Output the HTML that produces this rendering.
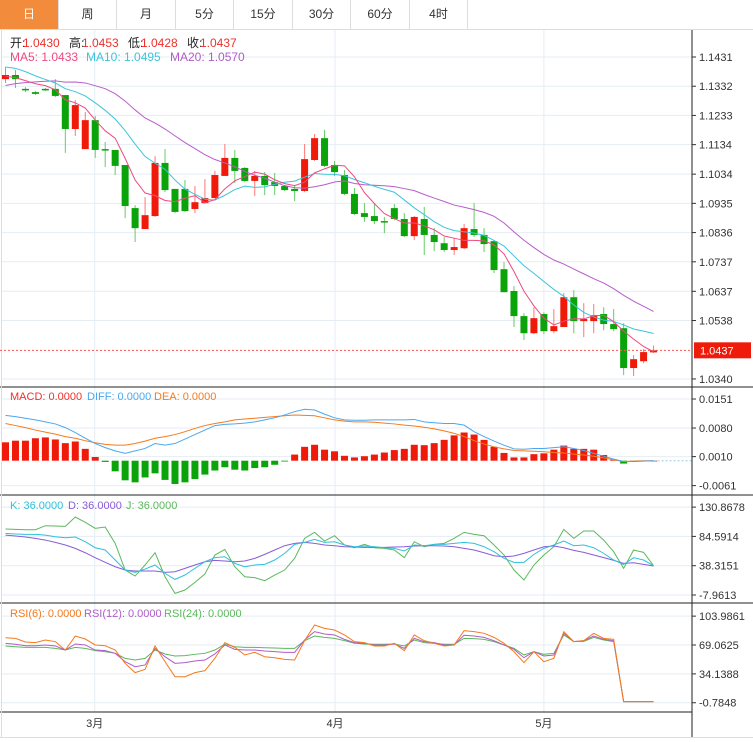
<!DOCTYPE html>
<html><head><meta charset="utf-8">
<style>
html,body{margin:0;padding:0;background:#fff;width:753px;height:742px;overflow:hidden;font-family:"Liberation Sans","Noto Sans CJK SC",sans-serif;}
#tabs{position:absolute;left:0;top:0;width:753px;height:29px;border-bottom:1px solid #ddd;}
.tab{position:absolute;top:0;height:29px;line-height:29px;text-align:center;font-size:12px;color:#333;border-right:1px solid #ddd;box-sizing:border-box;}
.tab.on{background:#f28b3c;color:#fff;}
svg{position:absolute;left:0;top:0;}
</style></head>
<body>
<div id="tabs">
<div class="tab on" style="left:0;width:59px">日</div>
<div class="tab" style="left:59px;width:58px">周</div>
<div class="tab" style="left:117px;width:59px">月</div>
<div class="tab" style="left:176px;width:58px">5分</div>
<div class="tab" style="left:234px;width:59px">15分</div>
<div class="tab" style="left:293px;width:58px">30分</div>
<div class="tab" style="left:351px;width:59px">60分</div>
<div class="tab" style="left:410px;width:58px">4时</div>
</div>
<svg id="chart" width="753" height="742"></svg>
<script>
const opens=[1.1356,1.1370,1.1323,1.1312,1.1323,1.1323,1.1302,1.1187,1.1119,1.1217,1.1119,1.1116,1.1065,1.0919,1.0848,1.0892,1.1072,1.0984,1.0984,1.0916,1.0936,1.0953,1.1028,1.1089,1.1055,1.1011,1.1028,1.1007,1.0994,1.0984,1.0977,1.1082,1.1156,1.1065,1.1031,1.0967,1.0902,1.0892,1.0875,1.0919,1.0882,1.0824,1.0882,1.0828,1.0800,1.0777,1.0783,1.0848,1.0828,1.0807,1.0712,1.0638,1.0553,1.0495,1.0560,1.0502,1.0516,1.0617,1.0536,1.0536,1.0560,1.0526,1.0512,1.0377,1.0400,1.0430];
const highs=[1.1397,1.1387,1.1329,1.1316,1.1326,1.1356,1.1302,1.1285,1.1245,1.1231,1.1143,1.1116,1.1065,1.0929,1.0956,1.1095,1.1119,1.0984,1.1014,1.0994,1.1017,1.1045,1.1136,1.1116,1.1058,1.1045,1.1041,1.1038,1.0997,1.0997,1.1136,1.1170,1.1184,1.1079,1.1048,1.0987,1.0936,1.0936,1.0889,1.0933,1.0902,1.0892,1.0923,1.0851,1.0821,1.0817,1.0865,1.0936,1.0851,1.0807,1.0736,1.0655,1.0563,1.0583,1.0566,1.0577,1.0631,1.0641,1.0597,1.0594,1.0583,1.0577,1.0529,1.0421,1.0441,1.0453];
const lows=[1.1343,1.1326,1.1312,1.1302,1.1316,1.1295,1.1106,1.1163,1.1119,1.1089,1.1058,1.1031,1.0885,1.0804,1.0848,1.0889,1.0973,1.0902,1.0906,1.0902,1.0933,1.0953,1.1028,1.1004,1.1007,1.0960,1.0963,1.0963,1.0977,1.0943,1.0973,1.1079,1.1058,1.1028,1.0963,1.0895,1.0872,1.0865,1.0834,1.0878,1.0821,1.0811,1.0760,1.0773,1.0770,1.0760,1.0780,1.0821,1.0770,1.0699,1.0634,1.0516,1.0472,1.0492,1.0492,1.0495,1.0516,1.0495,1.0482,1.0495,1.0505,1.0502,1.0353,1.0350,1.0393,1.0428];
const closes=[1.1370,1.1356,1.1319,1.1306,1.1319,1.1299,1.1187,1.1268,1.1217,1.1116,1.1116,1.1062,1.0926,1.0851,1.0895,1.1072,1.0980,1.0906,1.0909,1.0939,1.0953,1.1031,1.1089,1.1045,1.1011,1.1028,1.0997,1.0994,1.0980,1.0977,1.1085,1.1156,1.1062,1.1041,1.0967,1.0899,1.0889,1.0875,1.0872,1.0882,1.0824,1.0889,1.0828,1.0804,1.0777,1.0787,1.0851,1.0828,1.0797,1.0709,1.0634,1.0553,1.0495,1.0546,1.0502,1.0519,1.0617,1.0536,1.0543,1.0556,1.0526,1.0509,1.0377,1.0407,1.0431,1.0437];
const priorCloses=[1.1230,1.1250,1.1260,1.1270,1.1280,1.1270,1.1260,1.1280,1.1300,1.1320,1.1400,1.1430,1.1450,1.1440,1.1420,1.1380,1.1370,1.1360,1.1350];
const priceTicks=[1.1431,1.1332,1.1233,1.1134,1.1034,1.0935,1.0836,1.0737,1.0637,1.0538,1.0340];
const lastPrice=1.0437;
const macdBars=[0.0045,0.0049,0.0049,0.0055,0.0057,0.0052,0.0043,0.0047,0.0029,0.0009,-0.0003,-0.0026,-0.0048,-0.0053,-0.0041,-0.0031,-0.0047,-0.0057,-0.0053,-0.0045,-0.0034,-0.0024,-0.0016,-0.0022,-0.0024,-0.0018,-0.0016,-0.0010,-0.0002,0.0015,0.0034,0.0039,0.0027,0.0023,0.0012,0.0008,0.0011,0.0015,0.0020,0.0026,0.0029,0.0039,0.0038,0.0043,0.0051,0.0062,0.0069,0.0064,0.0051,0.0034,0.0019,0.0008,0.0008,0.0016,0.0018,0.0027,0.0037,0.0029,0.0029,0.0027,0.0014,0.0002,-0.0007,-0.0003,-0.0001,0];
const diff=[0.0111,0.0108,0.0104,0.0100,0.0095,0.0090,0.0081,0.0069,0.0055,0.0042,0.0032,0.0024,0.0018,0.0024,0.0030,0.0042,0.0038,0.0042,0.0053,0.0064,0.0075,0.0086,0.0089,0.0090,0.0092,0.0095,0.0100,0.0105,0.0112,0.0120,0.0126,0.0124,0.0114,0.0105,0.0100,0.0099,0.0099,0.0100,0.0100,0.0100,0.0100,0.0101,0.0095,0.0093,0.0091,0.0091,0.0087,0.0071,0.0059,0.0048,0.0038,0.0029,0.0028,0.0030,0.0030,0.0032,0.0034,0.0030,0.0025,0.0018,0.0011,0.0004,-0.0002,-0.0002,-0.0001,0];
const dea=[0.0091,0.0086,0.0081,0.0075,0.0070,0.0065,0.0059,0.0055,0.0049,0.0044,0.0040,0.0038,0.0038,0.0042,0.0048,0.0055,0.0059,0.0064,0.0071,0.0079,0.0086,0.0091,0.0095,0.0100,0.0102,0.0104,0.0106,0.0108,0.0110,0.0112,0.0111,0.0110,0.0105,0.0100,0.0097,0.0095,0.0095,0.0094,0.0092,0.0090,0.0087,0.0085,0.0082,0.0078,0.0073,0.0067,0.0059,0.0049,0.0041,0.0034,0.0029,0.0025,0.0024,0.0023,0.0022,0.0020,0.0019,0.0016,0.0014,0.0011,0.0007,0.0002,-0.0002,-0.0001,0,0];
const macdTicks=[0.0151,0.0080,0.0010,-0.0061];
const kVals=[89.4,88.3,87.8,87.8,86.7,84.1,82.5,83.6,76.2,66.7,63.1,47.3,31.5,27.8,33.0,39.4,26.2,16.7,23.6,34.1,44.6,51.0,52.5,42.0,36.7,39.4,40.4,47.3,57.8,72.0,75.2,79.9,75.2,76.2,71.0,68.3,69.4,68.3,66.7,65.7,61.5,71.0,69.9,72.0,72.0,73.6,75.2,73.6,68.3,60.4,49.9,43.6,43.6,56.2,65.7,71.0,77.3,69.9,71.0,66.7,57.8,47.3,40.4,51.0,47.3,38.3];
const dVals=[86.7,85.2,83.6,81.5,78.8,75.2,71.0,65.7,58.8,51.0,43.6,36.7,31.5,29.9,29.9,29.9,27.8,28.8,34.1,39.4,44.6,46.7,45.7,44.6,45.7,49.9,56.2,63.1,69.9,73.6,75.2,73.6,71.0,69.9,68.3,67.8,67.3,67.3,67.3,67.8,68.3,69.4,69.9,69.9,69.4,68.3,65.7,63.1,58.8,54.1,52.5,53.6,57.8,63.1,68.3,69.4,66.7,62.5,59.4,55.2,51.0,46.7,42.0,43.0,40.4,37.8];
const jVals=[96.2,95.7,95.2,95.2,101.5,101.0,100.4,115.2,106.8,97.3,99.4,73.6,31.5,22.0,39.4,58.8,20.9,-5.4,-0.1,12.0,25.1,55.2,64.1,36.7,20.9,19.4,14.6,23.6,31.5,49.9,81.5,91.0,77.3,85.7,71.0,66.7,72.0,66.7,65.7,63.1,51.0,76.2,68.3,72.0,73.6,81.5,91.0,87.8,85.7,71.0,55.2,31.5,15.7,39.4,55.2,68.3,95.7,81.5,93.1,93.1,78.8,60.4,34.1,63.1,59.4,38.3];
const kdjTicks=[130.8678,84.5914,38.3151,-7.9613];
const rsi6=[77.9,77.1,72.7,71.9,75.1,73.1,63.0,79.9,76.3,69.1,68.2,63.0,46.9,35.6,39.6,67.9,48.9,30.7,30.7,35.6,38.0,52.9,71.9,66.2,57.0,60.2,54.9,53.7,51.7,50.9,74.3,93.3,89.2,87.2,81.2,73.1,71.9,67.9,67.9,71.1,62.2,81.2,74.3,71.1,67.9,69.1,86.4,85.2,83.2,78.3,71.1,61.0,47.7,61.0,48.9,52.9,85.2,73.1,74.3,83.2,77.1,75.9,0.5,0.5,0.5,0.5];
const rsi12=[71.1,69.9,68.2,68.2,69.1,67.9,63.0,70.3,69.1,63.0,62.2,59.0,48.9,42.8,44.9,65.0,54.9,46.9,47.7,49.7,50.9,58.2,69.1,63.8,63.0,63.0,61.8,61.0,60.2,60.2,75.1,85.2,82.4,81.2,75.9,71.9,71.1,69.1,69.1,70.3,65.0,77.1,73.1,71.9,69.1,69.1,80.8,79.9,78.3,74.3,69.1,63.8,53.7,61.0,55.8,57.0,83.2,73.1,74.3,79.9,75.9,74.3,0.5,0.5,0.5,0.5];
const rsi24=[67.9,67.0,66.2,66.2,66.2,65.0,63.0,66.2,65.0,62.2,61.0,59.0,52.9,50.9,52.9,63.0,58.2,55.8,56.2,57.8,59.0,63.0,69.9,67.0,66.2,66.2,65.8,65.4,65.0,65.0,74.3,79.9,78.3,77.1,74.3,71.1,70.3,69.9,69.9,70.3,67.9,75.1,71.9,71.1,69.9,69.9,77.1,76.7,75.9,73.1,69.1,65.0,57.0,61.0,57.8,59.0,81.2,73.1,73.5,78.3,75.1,73.1,0.5,0.5,0.5,0.5];
const rsiTicks=[103.9861,69.0625,34.1388,-0.7848];
const monthLabels=["3月","4月","5月"];
const monthIdx=[9,33,54];

const NS="http://www.w3.org/2000/svg";
const svg=document.getElementById('chart');
function mk(tag,attrs,parent){const e=document.createElementNS(NS,tag);for(const k in attrs)e.setAttribute(k,attrs[k]);(parent||svg).appendChild(e);return e;}
const AX=692;
const xAt=i=>5.5+i*9.97;
const yP=p=>57+(1.1431-p)*2951;
const yM=v=>460.7-v*4085;
const yK=v=>565.7-(v-38.3151)*0.633;
const yR=v=>645-(v-69.0625)*0.8266;

// grid
function hgrid(ticks,fy,name){ticks.forEach(t=>{const l=mk('line',{x1:2,x2:AX,y1:fy(t),y2:fy(t),stroke:'#e4edf4','stroke-width':1});


const tm=mk('line',{x1:AX,x2:AX+4,y1:fy(t),y2:fy(t),stroke:'#333'});


const tx=mk('text',{x:AX+7,y:fy(t)+4,'font-size':11,fill:'#333'});tx.textContent=(name==='price-grid'||name==='macd-grid')?t.toFixed(4):(t.toFixed(4));

});}
hgrid(priceTicks,yP,'price-grid');
hgrid(macdTicks,yM,'macd-grid');
hgrid(kdjTicks,yK,'kdj-grid');
hgrid(rsiTicks,yR,'rsi-grid');
monthIdx.forEach((mi,k)=>{const x=xAt(mi)-0.5*0+(k===0?-0.5:0)+ (k===1?0.5:0);const l=mk('line',{x1:x,x2:x,y1:30,y2:712,stroke:'#e4edf4'});


const t=mk('text',{x:x,y:727,'font-size':11,fill:'#333','text-anchor':'middle'});t.textContent=monthLabels[k];

});
// frame
[[0,387,AX,387],[0,495,AX,495],[0,603,AX,603],[0,712,AX,712]].forEach(s=>{const l=mk('line',{x1:s[0],y1:s[1],x2:s[2],y2:s[3],stroke:'#222'});

});
[[AX,387,753,387],[AX,495,753,495],[AX,603,753,603]].forEach(s=>{const l=mk('line',{x1:s[0],y1:s[1],x2:s[2],y2:s[3],stroke:'#222'});

});
const ax=mk('line',{x1:AX,x2:AX,y1:30,y2:737,stroke:'#222'});


const lb=mk('line',{x1:1.5,x2:1.5,y1:30,y2:737,stroke:'#ddd'});


const bb=mk('line',{x1:0,x2:753,y1:737.5,y2:737.5,stroke:'#ddd'});



// candles
const RED='#f01a0a',GRN='#0aa40a';
for(let i=0;i<closes.length;i++){
 const up=closes[i]>=opens[i];const c=up?RED:GRN;const x=xAt(i);
 const w=mk('line',{x1:x,x2:x,y1:yP(highs[i]),y2:yP(lows[i]),stroke:up?'#f77':'#6c6','stroke-width':1});
 
 
 const t=Math.min(yP(opens[i]),yP(closes[i]));const h=Math.max(1.5,Math.abs(yP(opens[i])-yP(closes[i])));
 const r=mk('rect',{x:x-3.5,y:t,width:7,height:h,fill:c});
 
 
}
// MA
const all=priorCloses.concat(closes);
function ma(n){return closes.map((_,i)=>{const j=i+priorCloses.length;let s=0,c=0;for(let k=Math.max(0,j-n+1);k<=j;k++){s+=all[k];c++;}return s/c;});}
function poly(vals,fy,color,name){const p=mk('polyline',{points:vals.map((v,i)=>xAt(i)+','+fy(v)).join(' '),fill:'none',stroke:color,'stroke-width':1});

}
poly(ma(20),yP,'#b85ccc','ma20-line');
poly(ma(10),yP,'#3cc4dc','ma10-line');
poly(ma(5),yP,'#ee4a80','ma5-line');
// last price
const lp=mk('line',{x1:0,x2:AX,y1:yP(lastPrice),y2:yP(lastPrice),stroke:'#f55','stroke-dasharray':'2,2'});


const lr=mk('rect',{x:694,y:yP(lastPrice)-8,width:57,height:16,fill:'#f01a0a'});


const lt=mk('text',{x:700,y:yP(lastPrice)+4,'font-size':11,fill:'#fff'});lt.textContent=lastPrice.toFixed(4);



// MACD
macdBars.forEach((v,i)=>{const y0=yM(0),y1=yM(v);const r=mk('rect',{x:xAt(i)-3.5,y:Math.min(y0,y1),width:7,height:Math.max(0.8,Math.abs(y1-y0)),fill:v>=0?RED:GRN});

});
const zl=mk('line',{x1:xAt(macdBars.length-1),x2:AX,y1:yM(0),y2:yM(0),stroke:'#9cd','stroke-dasharray':'2,2'});


poly(dea,yM,'#f57a1c','dea-line');
poly(diff,yM,'#4aa8f0','diff-line');
// KDJ
poly(jVals,yK,'#5cb85c','kdj-j-line');
poly(dVals,yK,'#8a5cd6','kdj-d-line');
poly(kVals,yK,'#30c0dc','kdj-k-line');
// RSI
poly(rsi24,yR,'#5cb85c','rsi24-line');
poly(rsi12,yR,'#b05cc8','rsi12-line');
poly(rsi6,yR,'#f57a1c','rsi6-line');

// legends
function legend(y,items,name){let x=10;items.forEach(it=>{const t=mk('text',{x:x,y:y,'font-size':it[2]||11,fill:it[1]});t.textContent=it[0];


x+=it[3];});}
legend(47,[['开:','#222',12,13],['1.0430','#f0302a',12,46],['高:','#222',12,13],['1.0453','#f0302a',12,46],['低:','#222',12,13],['1.0428','#f0302a',12,46],['收:','#222',12,13],['1.0437','#f0302a',12,46]],'ohlc-legend');
legend(61,[['MA5: 1.0433','#ee4a80',12,76],['MA10: 1.0495','#3cc4dc',12,84],['MA20: 1.0570','#b05cc8',12,90]],'ma-legend');
legend(400,[['MACD: 0.0000','#f0302a',11,77],['DIFF: 0.0000','#4aa8f0',11,67],['DEA: 0.0000','#f57a1c',11,70]],'macd-legend');
legend(509,[['K: 36.0000','#30c0dc',11,58],['D: 36.0000','#8a5cd6',11,58],['J: 36.0000','#5cb85c',11,70]],'kdj-legend');
legend(617,[['RSI(6): 0.0000','#f57a1c',11,74],['RSI(12): 0.0000','#b05cc8',11,80],['RSI(24): 0.0000','#5cb85c',11,80]],'rsi-legend');
</script>
</body></html>
